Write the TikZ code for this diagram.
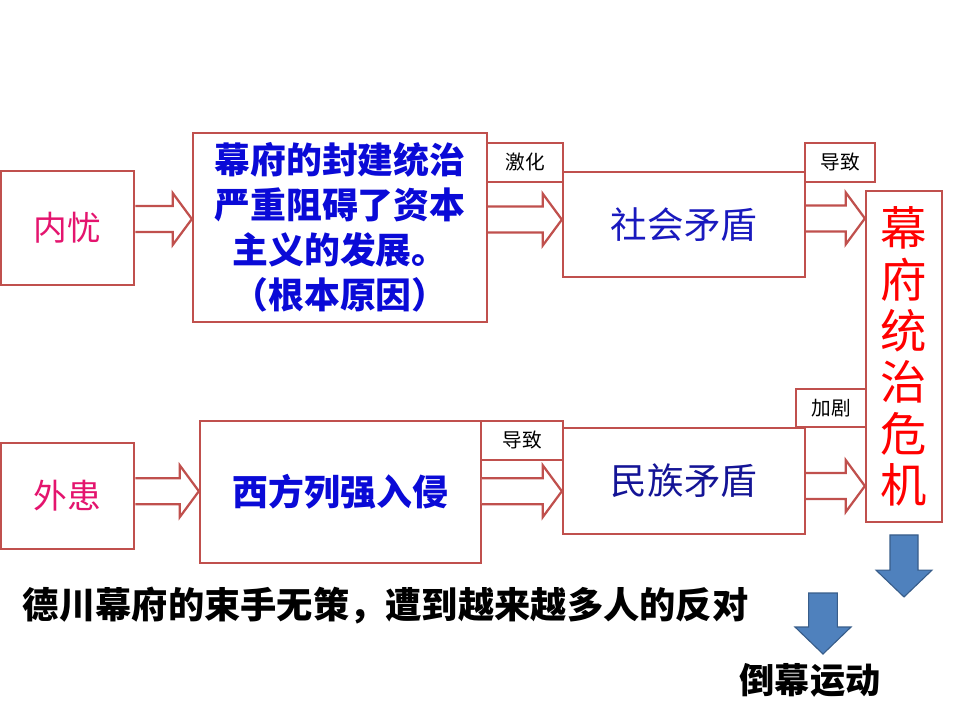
\documentclass[tikz,border=0pt]{standalone}
\usepackage{fontspec}
\usetikzlibrary{calc}
\newfontfamily\cjk{Noto Sans CJK SC}
\definecolor{boxred}{RGB}{192,80,77}
\definecolor{neipink}{RGB}{228,20,110}
\definecolor{rootblue}{RGB}{10,10,215}
\definecolor{conblue}{RGB}{25,25,190}
\definecolor{natblue}{RGB}{20,20,150}
\definecolor{downblue}{RGB}{79,129,189}
\definecolor{downedge}{RGB}{56,93,138}

% hollow block arrow from one box to the next, at height #3
\newcommand{\hollowarrow}[3]{%
  \draw[hollow] ($(#1.east|-0,#3)+(0,-0.325)$) -- ($(#2.west|-0,#3)+(-0.48,-0.325)$)
    -- ($(#2.west|-0,#3)+(-0.48,-0.65)$) -- (#2.west|-0,#3)
    -- ($(#2.west|-0,#3)+(-0.48,0.65)$) -- ($(#2.west|-0,#3)+(-0.48,0.325)$)
    -- ($(#1.east|-0,#3)+(0,0.325)$);}

\begin{document}
\begin{tikzpicture}[
    font=\cjk,
    box/.style={rectangle, draw=boxred, line width=1.6pt, fill=white, inner sep=0pt, align=center},
    tag/.style={box, font=\cjk\fontsize{14}{16}\selectfont},
    hollow/.style={draw=boxred, line width=1.6pt, fill=white, line join=miter},
    down/.style={draw=downedge, line width=0.8pt, fill=downblue}
]
    \useasboundingbox (0,0) rectangle (24,-18);

    % Nodes
    \node[box, minimum width=3.33cm, minimum height=2.85cm, text=neipink, font=\cjk\fontsize{24}{28}\selectfont] (neiyou) at (1.69,-5.70) {内忧};
    \node[box, minimum width=7.35cm, minimum height=4.72cm, text=rootblue, font=\cjk\bfseries\fontsize{25.5}{32}\selectfont] (root) at (8.5,-5.69) {幕府的封建统治\\严重阻碍了资本\\主义的发展。\\（根本原因）};
    \node[tag, minimum width=1.9cm, minimum height=0.975cm] (jihua) at (13.125,-4.06) {激化};
    \node[box, minimum width=6.05cm, minimum height=2.62cm, text=conblue, font=\cjk\fontsize{26}{30}\selectfont] (shehui) at (17.1,-5.61) {社会矛盾};
    \node[tag, minimum width=1.75cm, minimum height=0.975cm] (daozhiA) at (21.0,-4.06) {导致};
    \node[box, minimum width=1.9cm, minimum height=8.27cm, text=red, font=\cjk\fontsize{33}{36.5}\selectfont] (crisis) at (22.6,-8.91) {幕\\府\\统\\治\\危\\机};
    \node[tag, minimum width=1.75cm, minimum height=0.95cm] (jiaju) at (20.775,-10.2) {加剧};

    \node[box, minimum width=3.33cm, minimum height=2.65cm, text=neipink, font=\cjk\fontsize{24}{28}\selectfont] (waihuan) at (1.69,-12.4) {外患};
    \node[box, minimum width=7.02cm, minimum height=3.55cm, text=rootblue, font=\cjk\bfseries\fontsize{25.5}{30}\selectfont] (xifang) at (8.51,-12.3) {西方列强入侵};
    \node[tag, minimum width=2.05cm, minimum height=0.975cm] (daozhiB) at (13.05,-11.01) {导致};
    \node[box, minimum width=6.05cm, minimum height=2.65cm, text=natblue, font=\cjk\fontsize{26}{30}\selectfont] (minzu) at (17.1,-12.025) {民族矛盾};

    \node[anchor=west, font=\cjk\bfseries\fontsize{25.8}{28}\selectfont] (fandui) at (0.45,-15.15) {德川幕府的束手无策，遭到越来越多人的反对};
    \node[font=\cjk\bfseries\fontsize{25}{28}\selectfont] (daomu) at (20.25,-17.0) {倒幕运动};

    % Block arrows
    \hollowarrow{neiyou}{root}{-5.475}
    \hollowarrow{root}{shehui}{-5.49}
    \hollowarrow{shehui}{crisis}{-5.46}
    \hollowarrow{waihuan}{xifang}{-12.28}
    \hollowarrow{xifang}{minzu}{-12.28}
    \hollowarrow{minzu}{crisis}{-12.15}

    % Down arrows
    \draw[down] ($(crisis.south)+(-0.35,-0.3)$) -- ++(0.7,0) -- ++(0,-0.88) -- ++(0.35,0) -- ($(crisis.south)+(0,-1.85)$)
        -- ($(crisis.south)+(-0.7,-1.18)$) -- ++(0.35,0) -- cycle;
    \draw[down] ($(daomu.center)+(-0.035,2.175)$) -- ++(0.72,0) -- ++(0,-0.85) -- ++(0.34,0) -- ($(daomu.center)+(0.325,0.65)$)
        -- ($(daomu.center)+(-0.375,1.325)$) -- ++(0.34,0) -- cycle;
\end{tikzpicture}
\end{document}
